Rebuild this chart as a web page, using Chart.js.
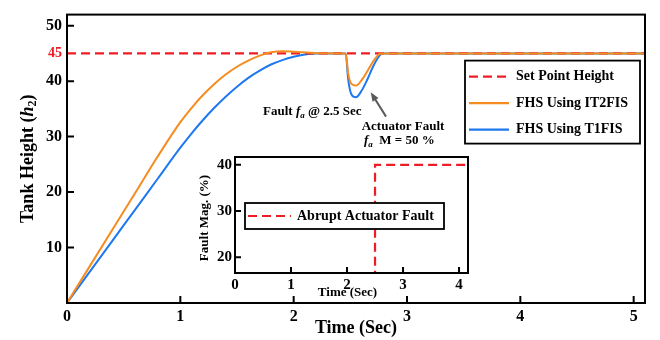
<!DOCTYPE html>
<html>
<head>
<meta charset="utf-8">
<script src="https://cdn.jsdelivr.net/npm/chart.js@4.4.1/dist/chart.umd.min.js"></script>
<style>
  html, body { margin: 0; padding: 0; background: #fff; }
  #wrap { position: relative; width: 660px; height: 340px; }
  #main { position: absolute; left: 0; top: 0; }
  #inset { position: absolute; left: 185px; top: 145px; }
</style>
</head>
<body>
<div id="wrap">
  <canvas id="main" width="660" height="340"></canvas>
  <canvas id="inset" width="290" height="158"></canvas>
</div>
<script>
// main plot: tank height response
const timeIT2 = [0, 0.2, 0.4, 0.6, 0.8, 1.0, 1.1, 1.2, 1.3, 1.4, 1.5, 1.6, 1.7, 1.8, 1.9, 2.0, 2.2, 2.46, 2.48, 2.51, 2.55, 2.6, 2.65, 2.7, 2.75, 2.78, 5.1];
const heightIT2 = [0, 6.6, 13.2, 19.8, 26.4, 32.6, 35.2, 37.5, 39.5, 41.2, 42.6, 43.7, 44.6, 45.2, 45.4, 45.3, 45.05, 45, 41.5, 39.5, 39.2, 40.2, 41.8, 43.5, 44.8, 45, 45];
const timeT1 = [0, 0.2, 0.4, 0.6, 0.8, 1.0, 1.1, 1.2, 1.3, 1.4, 1.5, 1.6, 1.7, 1.8, 1.9, 2.0, 2.1, 2.2, 2.46, 2.48, 2.51, 2.55, 2.6, 2.65, 2.7, 2.75, 2.78, 5.1];
const heightT1 = [0, 5.6, 11.2, 16.8, 22.4, 28, 30.6, 33, 35.2, 37.2, 39, 40.6, 41.9, 43, 43.8, 44.4, 44.8, 45, 45, 40.5, 37.6, 37.1, 38.3, 40.3, 42.6, 44.4, 45, 45];
const setTime = [0, 5.1];
const setHeight = [45, 45];

// inset: fault magnitude
const faultTime = [0, 2.5, 2.5, 4.16];
const faultMag = [0, 0, 40, 40];

const mainXTicks = [0, 1, 2, 3, 4, 5];
const mainYTicks = [10, 20, 30, 40, 45, 50];
const insetXTicks = [0, 1, 2, 3, 4];
const insetYTicks = [20, 30, 40];

const seriesLabels = ['Set Point Height', 'FHS Using IT2FIS', 'FHS Using T1FIS'];
const faultLabel = 'Abrupt Actuator Fault';

const RED = '#ee1c25';
const ORANGE = '#f68b1f';
const BLUE = '#1e78f0';
const SERIF = '"Liberation Serif", "Times New Roman", serif';

Chart.defaults.font.family = SERIF;
Chart.defaults.color = '#000';

function pts(xs, ys) {
    return xs.map((x, i) => ({ x: x, y: ys[i] }));
}

function bold(size, italic) {
    return (italic ? 'italic ' : '') + 'bold ' + size + 'px ' + SERIF;
}

// draws text made of several styled pieces, optionally rotated
function drawRich(ctx, parts, x, y, rot, align) {
    ctx.save();
    ctx.translate(x, y);
    if (rot) ctx.rotate(rot);
    ctx.textBaseline = 'middle';
    ctx.textAlign = 'left';
    let total = 0;
    parts.forEach((p) => {
        ctx.font = p.font;
        p.w = ctx.measureText(p.text).width;
        total += p.w;
    });
    let cx = align === 'left' ? 0 : -total / 2;
    parts.forEach((p) => {
        ctx.font = p.font;
        ctx.fillStyle = p.color || '#000';
        ctx.fillText(p.text, cx, p.dy || 0);
        cx += p.w;
    });
    ctx.restore();
}

function drawSample(ctx, x, y, len, color, dash) {
    ctx.save();
    ctx.strokeStyle = color;
    ctx.lineWidth = 2.2;
    ctx.setLineDash(dash || []);
    ctx.beginPath();
    ctx.moveTo(x, y);
    ctx.lineTo(x + len, y);
    ctx.stroke();
    ctx.restore();
}

// box round the plot area and ticks pointing inward
const framePlugin = {
    id: 'frame',
    afterDatasetsDraw(chart, args, opts) {
        const { ctx, chartArea: a, scales } = chart;
        ctx.save();
        ctx.strokeStyle = '#000';
        ctx.lineWidth = opts.width;
        ctx.strokeRect(a.left, a.top, a.right - a.left, a.bottom - a.top);
        ctx.beginPath();
        scales.x.ticks.forEach((t) => {
            const px = scales.x.getPixelForValue(t.value);
            ctx.moveTo(px, a.bottom);
            ctx.lineTo(px, a.bottom - opts.tick);
        });
        scales.y.ticks.forEach((t) => {
            if (opts.skip && opts.skip.includes(t.value)) return;
            const py = scales.y.getPixelForValue(t.value);
            ctx.moveTo(a.left, py);
            ctx.lineTo(a.left + opts.tick, py);
        });
        ctx.stroke();
        ctx.restore();
    },
};

const mainDecor = {
    id: 'mainDecor',
    afterDraw(chart) {
        const { ctx, chartArea: a, scales } = chart;
        const X = (v) => scales.x.getPixelForValue(v);
        const Y = (v) => scales.y.getPixelForValue(v);

        // axis titles
        drawRich(ctx, [{ text: 'Time (Sec)', font: bold(18) }], (a.left + a.right) / 2, 328);
        drawRich(ctx, [
            { text: 'Tank Height (', font: bold(18) },
            { text: 'h', font: bold(18, true) },
            { text: '2', font: bold(12), dy: 5 },
            { text: ')', font: bold(18) },
        ], 28, (a.top + a.bottom) / 2, -Math.PI / 2);

        // annotations
        drawRich(ctx, [
            { text: 'Fault ', font: bold(13) },
            { text: 'f', font: bold(13, true) },
            { text: 'a', font: bold(9, true), dy: 4 },
            { text: ' @ 2.5 Sec', font: bold(13) },
        ], X(1.73), Y(34.5), 0, 'left');
        drawRich(ctx, [{ text: 'Actuator Fault', font: bold(13) }], X(2.6), Y(31.8), 0, 'left');
        drawRich(ctx, [
            { text: 'f', font: bold(13, true) },
            { text: 'a', font: bold(9, true), dy: 4 },
            { text: '  M = 50 %', font: bold(13) },
        ], X(2.62), Y(29.2), 0, 'left');

        // arrow to the dip
        const tx = X(2.68), ty = Y(38.0), sx = X(2.815), sy = Y(33.6);
        const ang = Math.atan2(ty - sy, tx - sx);
        ctx.save();
        ctx.strokeStyle = '#5a5a5a';
        ctx.fillStyle = '#5a5a5a';
        ctx.lineWidth = 2;
        ctx.beginPath();
        ctx.moveTo(sx, sy);
        ctx.lineTo(tx - 6 * Math.cos(ang), ty - 6 * Math.sin(ang));
        ctx.stroke();
        ctx.beginPath();
        ctx.moveTo(tx, ty);
        ctx.lineTo(tx - 9 * Math.cos(ang) + 3.5 * Math.sin(ang), ty - 9 * Math.sin(ang) - 3.5 * Math.cos(ang));
        ctx.lineTo(tx - 9 * Math.cos(ang) - 3.5 * Math.sin(ang), ty - 9 * Math.sin(ang) + 3.5 * Math.cos(ang));
        ctx.closePath();
        ctx.fill();
        ctx.restore();

        // legend
        const lx = a.right - 180, ly = a.top + 46;
        ctx.save();
        ctx.fillStyle = '#fff';
        ctx.fillRect(lx, ly, 175, 83);
        ctx.strokeStyle = '#000';
        ctx.lineWidth = 1.8;
        ctx.strokeRect(lx, ly, 175, 83);
        ctx.restore();
        chart.data.datasets.forEach((ds, i) => {
            const rowY = ly + 16 + i * 26.5;
            drawSample(ctx, lx + 4, rowY, 40, ds.borderColor, ds.borderDash);
            drawRich(ctx, [{ text: ds.label, font: bold(14) }], lx + 51, rowY, 0, 'left');
        });
    },
};

const insetDecor = {
    id: 'insetDecor',
    afterDraw(chart) {
        const { ctx, chartArea: a } = chart;
        drawRich(ctx, [{ text: 'Time (Sec)', font: bold(13) }], (a.left + a.right) / 2 - 4, 148);
        drawRich(ctx, [{ text: 'Fault Mag. (%)', font: bold(13) }], 20, (a.top + a.bottom) / 2 + 3, -Math.PI / 2);

        const ds = chart.data.datasets[0];
        const bx = a.left + 10, by = a.top + 46;
        ctx.save();
        ctx.fillStyle = '#fff';
        ctx.fillRect(bx, by, 199, 26);
        ctx.strokeStyle = '#000';
        ctx.lineWidth = 1.8;
        ctx.strokeRect(bx, by, 199, 26);
        ctx.restore();
        drawSample(ctx, bx + 3, by + 13, 43, ds.borderColor, ds.borderDash);
        drawRich(ctx, [{ text: ds.label, font: bold(14) }], bx + 52, by + 13, 0, 'left');
    },
};

function axis(min, max, tickList, size, pad, extra) {
    return Object.assign({
        type: 'linear',
        min: min,
        max: max,
        grid: { display: false, drawTicks: false },
        border: { display: false },
        afterBuildTicks: (scale) => {
            scale.ticks = tickList.map((v) => ({ value: v }));
        },
        ticks: {
            padding: pad,
            font: { size: size, weight: 'bold' },
            color: '#000',
            callback: (v) => String(v),
        },
    }, extra);
}

new Chart(document.getElementById('main'), {
    type: 'line',
    data: {
        datasets: [
            {
                label: seriesLabels[0],
                data: pts(setTime, setHeight),
                borderColor: RED,
                borderWidth: 2.2,
                borderDash: [9, 5],
                order: 1,
            },
            {
                label: seriesLabels[1],
                data: pts(timeIT2, heightIT2),
                borderColor: ORANGE,
                borderWidth: 2,
                cubicInterpolationMode: 'monotone',
                order: 0,
            },
            {
                label: seriesLabels[2],
                data: pts(timeT1, heightT1),
                borderColor: BLUE,
                borderWidth: 2,
                cubicInterpolationMode: 'monotone',
                order: 2,
            },
        ],
    },
    options: {
        responsive: false,
        animation: false,
        parsing: false,
        elements: { point: { radius: 0 } },
        layout: { padding: { left: 0, top: 9, right: 15, bottom: 0 } },
        scales: {
            x: axis(0, 5.1, mainXTicks, 16, 4, {
                afterFit: (scale) => { scale.height = 37; },
            }),
            y: axis(0, 52, mainYTicks, 16, 5, {
                afterFit: (scale) => { scale.width = 67; },
            }),
        },
        plugins: {
            legend: { display: false },
            tooltip: { enabled: false },
            frame: { width: 2, tick: 7, skip: [45] },
        },
    },
    plugins: [framePlugin, mainDecor],
});

// red 45 label on the y axis
const mainChart = Chart.getChart('main');
mainChart.options.scales.y.ticks.color = (c) => (c.tick && c.tick.value === 45 ? RED : '#000');
mainChart.options.scales.y.ticks.font = (c) => ({ size: c.tick && c.tick.value === 45 ? 14 : 16, weight: 'bold' });
mainChart.update();

new Chart(document.getElementById('inset'), {
    type: 'line',
    data: {
        datasets: [
            {
                label: faultLabel,
                data: pts(faultTime, faultMag),
                borderColor: RED,
                borderWidth: 2.2,
                borderDash: [9, 5],
            },
        ],
    },
    options: {
        responsive: false,
        animation: false,
        parsing: false,
        elements: { point: { radius: 0 } },
        layout: { padding: { left: 0, top: 9, right: 7, bottom: 0 } },
        scales: {
            x: axis(0, 4.16, insetXTicks, 15, 3, {
                afterFit: (scale) => { scale.height = 30; },
            }),
            y: axis(16.6, 41.7, insetYTicks, 15, 3, {
                afterFit: (scale) => { scale.width = 50; },
            }),
        },
        plugins: {
            legend: { display: false },
            tooltip: { enabled: false },
            frame: { width: 2, tick: 6 },
        },
    },
    plugins: [framePlugin, insetDecor],
});
</script>
</body>
</html>
